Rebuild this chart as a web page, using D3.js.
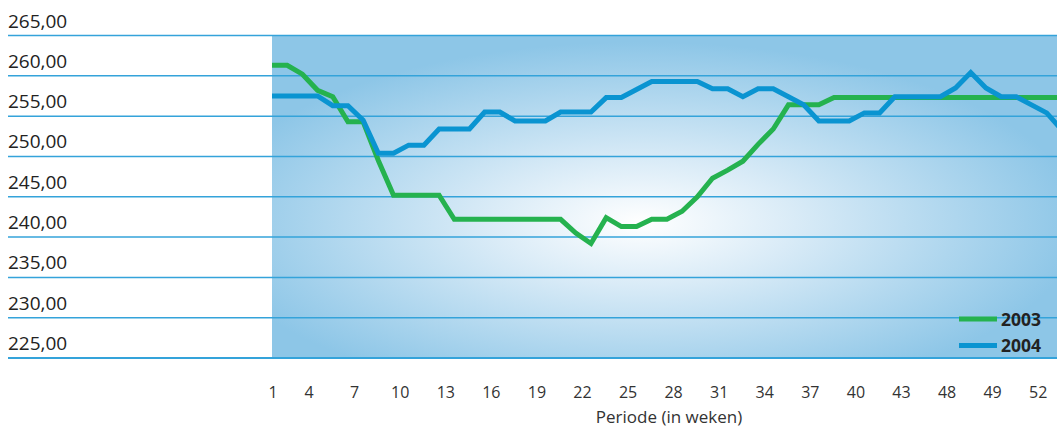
<!DOCTYPE html>
<html>
<head>
<meta charset="utf-8">
<script src="https://cdn.jsdelivr.net/npm/d3@7"></script>
<style>
  body { margin: 0; background: #fff; }
  svg { display: block; font-family: "Open Sans", sans-serif; }
</style>
</head>
<body>
<div id="chart"></div>
<script>
// weeks 1..53 (2004 had 53 weeks)
var weeks = d3.range(1, 54);

var values2003 = [
  261.3, 261.3, 260.2, 258.2, 257.4, 254.3, 254.3, 249.5, 245.2, 245.2,
  245.2, 245.2, 242.2, 242.2, 242.2, 242.2, 242.2, 242.2, 242.2, 242.2,
  240.5, 239.2, 242.4, 241.3, 241.3, 242.2, 242.2, 243.2, 245.0, 247.3,
  248.3, 249.4, 251.5, 253.4, 256.4, 256.4, 256.4, 257.3, 257.3, 257.3,
  257.3, 257.3, 257.3, 257.3, 257.3, 257.3, 257.3, 257.3, 257.3, 257.3,
  257.3, 257.3, 257.3
];

var values2004 = [
  257.5, 257.5, 257.5, 257.5, 256.3, 256.3, 254.5, 250.4, 250.4, 251.4,
  251.4, 253.4, 253.4, 253.4, 255.5, 255.5, 254.4, 254.4, 254.4, 255.5,
  255.5, 255.5, 257.3, 257.3, 258.3, 259.3, 259.3, 259.3, 259.3, 258.4,
  258.4, 257.4, 258.4, 258.4, 257.4, 256.4, 254.4, 254.4, 254.4, 255.4,
  255.4, 257.4, 257.4, 257.4, 257.4, 258.5, 260.4, 258.5, 257.4, 257.4,
  256.4, 255.4, 253.3
];

var yTicks = [225, 230, 235, 240, 245, 250, 255, 260, 265];
var xTickWeeks = [1, 4, 7, 10, 13, 16, 19, 22, 25, 28, 31, 34, 37, 40, 43, 46, 49, 52];
var xTickLabels = ["1", "4", "7", "10", "13", "16", "19", "22", "25", "28", "31", "34", "37", "40", "43", "48", "49", "52"];

var seriesNames = ["2003", "2004"];
var seriesColors = ["#25b24f", "#0a94d1"];

var width = 1057, height = 435;
var plotLeft = 272, plotRight = 1057, plotTop = 35.5, plotBottom = 358;

var svg = d3.select("#chart").append("svg")
    .attr("width", width)
    .attr("height", height);

var x = d3.scaleLinear().domain([1, 53]).range([plotLeft, plotLeft + 52 * 15.19]);
var y = d3.scaleLinear().domain([225, 265]).range([plotBottom, plotTop]);

var nl = d3.formatLocale({decimal: ",", thousands: ".", grouping: [3], currency: ["€", ""]});
var fmt = nl.format(".2f");

// background gradient
var defs = svg.append("defs");
var grad = defs.append("radialGradient")
    .attr("id", "bg")
    .attr("cx", 0.47).attr("cy", 0.58).attr("r", 0.56);
grad.append("stop").attr("offset", "0").attr("stop-color", "#ffffff");
grad.append("stop").attr("offset", "0.35").attr("stop-color", "#d9ebf7");
grad.append("stop").attr("offset", "1").attr("stop-color", "#8dc6e7");

defs.append("clipPath").attr("id", "clip")
  .append("rect")
    .attr("x", plotLeft).attr("y", plotTop - 5)
    .attr("width", plotRight - plotLeft).attr("height", plotBottom - plotTop + 10);

svg.append("rect")
    .attr("x", plotLeft).attr("y", plotTop)
    .attr("width", plotRight - plotLeft).attr("height", plotBottom - plotTop)
    .attr("fill", "url(#bg)");

// gridlines + y labels
svg.selectAll("line.grid")
    .data(yTicks)
  .enter().append("line")
    .attr("class", "grid")
    .attr("x1", 8).attr("x2", width)
    .attr("y1", function (d) { return y(d); })
    .attr("y2", function (d) { return y(d); })
    .attr("stroke", "#34a3da")
    .attr("stroke-width", function (d) { return d === 225 ? 2 : 1.5; });

svg.selectAll("text.ylab")
    .data(yTicks)
  .enter().append("text")
    .attr("class", "ylab")
    .attr("x", 8)
    .attr("y", function (d) { return y(d) - 8; })
    .style("font-size", "19px")
    .attr("fill", "#222")
    .text(function (d) { return fmt(d); });

// x labels (first one sits on the axis start, the rest a bit left of the week)
svg.selectAll("text.xlab")
    .data(xTickWeeks)
  .enter().append("text")
    .attr("class", "xlab")
    .attr("x", function (d, i) { return i === 0 ? x(d) + 1 : x(d) - 8.5; })
    .attr("y", 398)
    .attr("text-anchor", "middle")
    .style("font-size", "16px")
    .attr("fill", "#333")
    .text(function (d, i) { return xTickLabels[i]; });

svg.append("text")
    .attr("x", 669)
    .attr("y", 423)
    .attr("text-anchor", "middle")
    .style("font-size", "17px")
    .attr("fill", "#333")
    .text("Periode (in weken)");

// lines
var line = d3.line()
    .x(function (d) { return x(d.w); })
    .y(function (d) { return y(d.v); });

var series = [values2003, values2004];
series.forEach(function (vals, i) {
    var data = weeks.map(function (w, j) { return {w: w, v: vals[j]}; });
    svg.append("path")
        .datum(data)
        .attr("clip-path", "url(#clip)")
        .attr("fill", "none")
        .attr("stroke", seriesColors[i])
        .attr("stroke-width", 5)
        .attr("d", line);
});

// legend
var legend = svg.selectAll("g.legend")
    .data(seriesNames)
  .enter().append("g")
    .attr("class", "legend")
    .attr("transform", function (d, i) { return "translate(959," + (319 + i * 26.5) + ")"; });

legend.append("line")
    .attr("x1", 0).attr("x2", 38)
    .attr("stroke", function (d, i) { return seriesColors[i]; })
    .attr("stroke-width", 5);

legend.append("text")
    .attr("x", 42)
    .attr("y", 6.5)
    .style("font-size", "17.5px")
    .style("font-weight", "bold")
    .attr("fill", "#222")
    .text(function (d) { return d; });
</script>
</body>
</html>
